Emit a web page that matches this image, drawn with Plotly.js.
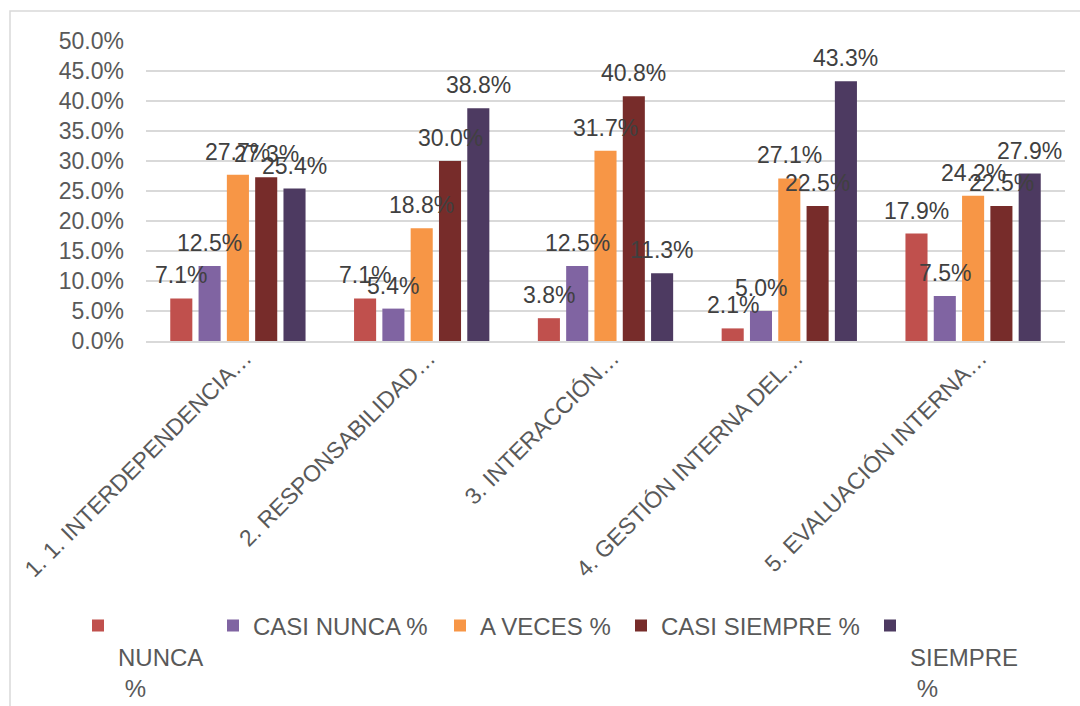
<!DOCTYPE html>
<html>
<head>
<meta charset="utf-8">
<script src="https://cdn.plot.ly/plotly-3.0.1.min.js"></script>
<style>
html,body{margin:0;padding:0;background:#fff;}
#chart{width:1080px;height:706px;}
</style>
</head>
<body>
<div id="chart"></div>
<script>
// ---- data ----
var categories = [
  "1. 1. INTERDEPENDENCIA\u2026",
  "2. RESPONSABILIDAD\u2026",
  "3. INTERACCI\u00d3N\u2026",
  "4. GESTI\u00d3N INTERNA DEL\u2026",
  "5. EVALUACI\u00d3N INTERNA\u2026"
];
var seriesNames = ["NUNCA %", "CASI NUNCA %", "A VECES %", "CASI SIEMPRE %", "SIEMPRE %"];
var nunca       = [0.071, 0.071, 0.038, 0.021, 0.179];
var casiNunca   = [0.125, 0.054, 0.125, 0.050, 0.075];
var aVeces      = [0.277, 0.188, 0.317, 0.271, 0.242];
var casiSiempre = [0.273, 0.300, 0.408, 0.225, 0.225];
var siempre     = [0.254, 0.388, 0.113, 0.433, 0.279];
var yTicks = [0, 0.05, 0.10, 0.15, 0.20, 0.25, 0.30, 0.35, 0.40, 0.45, 0.50];

// ---- style ----
var colors = ["#C0504D", "#8064A2", "#F79646", "#772C2A", "#4D3A61"];
var wrapped = [true, false, false, false, true];
var legendSymbolX = [98, 233, 460, 641, 890];   // px centre of each legend swatch
var FONT = "Liberation Sans, Arial, sans-serif";
var W = 1080, H = 706;
var M = {l: 146, r: 15, t: 41, b: 365};
var BARGAP = 0.23, GROUPGAP = 0.22;
var LEGEND_FS = 24;
var plotW = W - M.l - M.r, plotH = H - M.t - M.b;

var allSeries = [nunca, casiNunca, aVeces, casiSiempre, siempre];
var NB = '\u00a0';

function legendLabel(name, wrap) {
  if (wrap) {
    var parts = name.split(' ');
    return [NB, parts[0], NB + parts.slice(1).join(' ')].join('<br>');
  }
  return name;
}

var traces = allSeries.map(function (vals, i) {
  return {
    type: 'bar',
    name: legendLabel(seriesNames[i], wrapped[i]),
    legend: i === 0 ? 'legend' : 'legend' + (i + 1),
    x: categories,
    y: vals,
    marker: {color: colors[i], line: {width: 0}},
    hoverinfo: 'skip'
  };
});

// data labels as annotations above each bar
var catW = plotW / categories.length;
var pitch = catW * (1 - BARGAP) / allSeries.length;
var annotations = [];
allSeries.forEach(function (vals, i) {
  vals.forEach(function (v, j) {
    annotations.push({
      x: categories[j], y: v, xref: 'x', yref: 'y',
      text: (v * 100).toFixed(1) + '%',
      showarrow: false,
      xanchor: 'center', yanchor: 'bottom',
      xshift: (i - (allSeries.length - 1) / 2) * pitch,
      yshift: 8,
      font: {family: FONT, size: 23, color: '#404040'}
    });
  });
});

var lh = 1.3 * LEGEND_FS;
var legendTopPx = 624 - 5 - lh / 2;

var layout = {
  width: W, height: H,
  margin: {l: M.l, r: M.r, t: M.t, b: M.b, autoexpand: false},
  paper_bgcolor: '#ffffff',
  plot_bgcolor: '#ffffff',
  font: {family: FONT, size: 23, color: '#595959'},
  barmode: 'group',
  bargap: BARGAP,
  bargroupgap: GROUPGAP,
  showlegend: true,
  xaxis: {
    type: 'category',
    tickangle: -45,
    tickfont: {family: FONT, size: 23, color: '#595959'},
    showgrid: false,
    showline: true,
    linecolor: '#d9d9d9',
    linewidth: 1.5,
    ticks: '',
    ticklabelstandoff: -7,
    ticklabelshift: 7,
    fixedrange: true
  },
  yaxis: {
    range: [0, 0.5],
    tickvals: yTicks,
    tickformat: '.1%',
    tickfont: {family: FONT, size: 23, color: '#595959'},
    showgrid: true,
    gridcolor: '#d9d9d9',
    gridwidth: 1.5,
    zeroline: false,
    showline: false,
    ticks: '',
    ticklabelstandoff: 21,
    fixedrange: true
  },
  shapes: [{
    type: 'rect', xref: 'paper', yref: 'paper',
    x0: (10 - M.l) / plotW, x1: (W + 20 - M.l) / plotW,
    y0: -(H + 20 - (H - M.b)) / plotH, y1: ((H - M.b) - 11) / plotH,
    line: {color: '#d9d9d9', width: 1.5},
    fillcolor: 'rgba(0,0,0,0)',
    layer: 'below'
  }],
  annotations: annotations
};

legendSymbolX.forEach(function (sx, i) {
  var key = i === 0 ? 'legend' : 'legend' + (i + 1);
  layout[key] = {
    orientation: 'h',
    x: (sx - 20 - M.l) / plotW, xanchor: 'left',
    y: -(legendTopPx - (H - M.b)) / plotH, yanchor: 'top',
    valign: 'top',
    font: {family: FONT, size: LEGEND_FS, color: '#595959'},
    bgcolor: 'rgba(0,0,0,0)',
    itemclick: false, itemdoubleclick: false
  };
});

Plotly.newPlot('chart', traces, layout, {displayModeBar: false, staticPlot: true});
</script>
</body>
</html>
